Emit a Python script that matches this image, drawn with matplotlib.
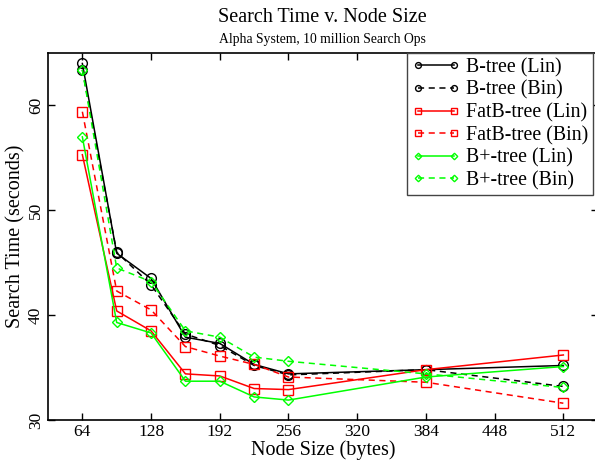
import matplotlib
matplotlib.use("Agg")
import matplotlib.pyplot as plt

plt.rcParams['font.family'] = ['Liberation Serif', 'DejaVu Serif']

node_sizes = [64, 96, 128, 160, 192, 224, 256, 384, 512]
btree_lin = [64.0, 45.9, 43.5, 37.9, 37.3, 35.3, 34.4, 34.8, 35.2]
btree_bin = [63.4, 46.0, 42.9, 38.2, 37.1, 35.2, 34.3, 34.8, 33.2]
fatb_lin = [55.3, 40.4, 38.5, 34.4, 34.2, 33.0, 32.9, 34.8, 36.2]
fatb_bin = [59.4, 42.3, 40.5, 37.0, 36.1, 35.3, 34.1, 33.6, 31.6]
bplus_lin = [57.0, 39.3, 38.3, 33.7, 33.7, 32.2, 31.9, 34.1, 35.1]
bplus_bin = [63.4, 44.5, 43.2, 38.5, 37.9, 36.0, 35.6, 34.4, 33.1]

x_ticks = [64, 128, 192, 256, 320, 384, 448, 512]
y_ticks = [30, 40, 50, 60]

fig = plt.figure(figsize=(5.95, 4.62), dpi=100)
ax = fig.add_axes([48/595, 42/462, 549.7/595, 367/462])

series = [
    (btree_lin, 'B-tree (Lin)', 'black', '-', 'o'),
    (btree_bin, 'B-tree (Bin)', 'black', '--', 'o'),
    (fatb_lin, 'FatB-tree (Lin)', '#ff0000', '-', 's'),
    (fatb_bin, 'FatB-tree (Bin)', '#ff0000', '--', 's'),
    (bplus_lin, 'B+-tree (Lin)', '#00ff00', '-', 'D'),
    (bplus_bin, 'B+-tree (Bin)', '#00ff00', '--', 'D'),
]
for vals, lab, col, ls, mk in series:
    ms = 5.5 if mk == 'D' else 7
    ax.plot(node_sizes, vals, color=col, linestyle=ls, marker=mk, markersize=ms,
            markerfacecolor='none', markeredgecolor=col, markeredgewidth=1.0,
            linewidth=1.1, label=lab, dashes=(4, 3) if ls == '--' else (None, None))

ax.set_xlim(32, 544)
ax.set_ylim(30, 65)
ax.set_xticks(x_ticks)
ax.set_yticks(y_ticks)
ax.tick_params(direction='in', top=True, right=True, length=5, width=1, labelsize=12.5, pad=3)
for lbl in ax.get_yticklabels():
    lbl.set_rotation(90)
    lbl.set_va('center')
for s in ax.spines.values():
    s.set_linewidth(1.2)

ax.set_xlabel('Node Size (bytes)', fontsize=14.5, labelpad=0)
ax.set_ylabel('Search Time (seconds)', fontsize=14.5, labelpad=2)

cx = 322 / 595
fig.text(cx, 1 - 18/462, 'Search Time v. Node Size', ha='center', va='center', fontsize=14.5)
fig.text(cx, 1 - 40/462, 'Alpha System, 10 million Search Ops', ha='center', va='center', fontsize=9.8)

leg = ax.legend(loc='upper right', fontsize=14.3, numpoints=2, handlelength=2.4,
                handletextpad=0.3, borderpad=0.25, labelspacing=0.17,
                fancybox=False, framealpha=1, edgecolor='#444444',
                borderaxespad=0, markerscale=0.6)
leg.set_bbox_to_anchor((593/595, 409/462), transform=fig.transFigure)
leg.get_frame().set_linewidth(1.0)

fig.savefig('out.png', dpi=100)
